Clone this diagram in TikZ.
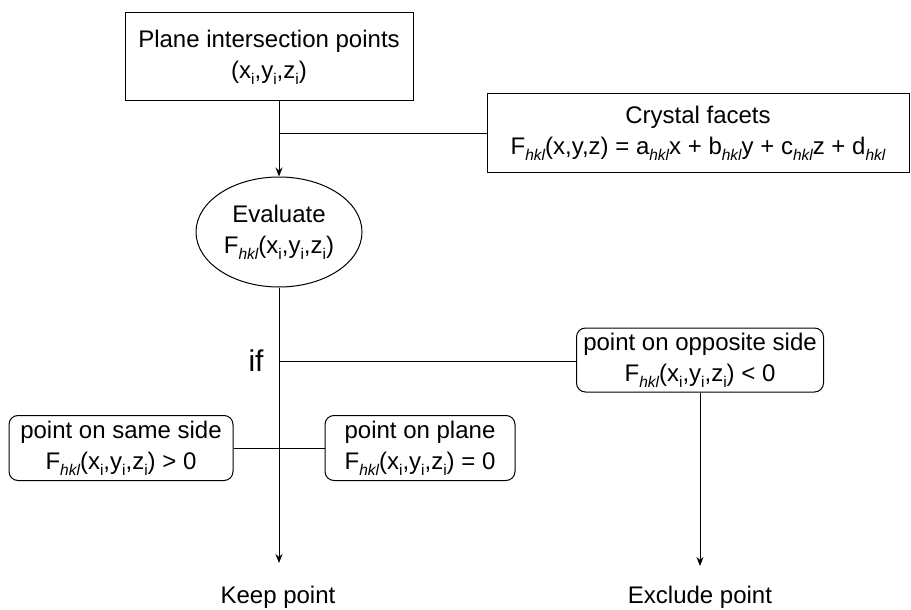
\documentclass[tikz,border=0pt]{standalone}
\usepackage{fontspec}
\setmainfont{Liberation Sans}
\usetikzlibrary{shapes.geometric,arrows.meta}
\newcommand{\mysb}[1]{\raisebox{-0.25em}{\fontsize{15.5}{15}\selectfont #1}}
\newcommand{\Fhkl}{F\mysb{\itshape hkl}}
\newcommand{\xyz}{(x\mysb{i},y\mysb{i},z\mysb{i})}
\begin{document}
\begin{tikzpicture}[x=1pt,y=-1pt,
  every node/.style={font=\fontsize{24}{31}\selectfont, align=center, inner sep=0pt},
  sqbox/.style={draw, line width=1pt, rectangle},
  rbox/.style={draw, line width=1pt, rectangle, rounded corners=9pt},
  ln/.style={line width=1pt},
  arr/.style={line width=1pt, -{Stealth[length=9pt,width=7pt]}}]
\useasboundingbox (0,0) rectangle (911,610);
\node[sqbox, minimum width=288pt, minimum height=88pt] (top) at (269,57) {Plane intersection points\\\xyz};
\node[sqbox, minimum width=422pt, minimum height=78pt] (cf) at (698,133) {Crystal facets\\\Fhkl(x,y,z) = a\mysb{\itshape hkl}x + b\mysb{\itshape hkl}y + c\mysb{\itshape hkl}z + d\mysb{\itshape hkl}};
\node[draw, line width=1pt, ellipse, minimum width=166pt, minimum height=110pt] (ev) at (279,232) {Evaluate\\\Fhkl\xyz};
\node[rbox, minimum width=247pt, minimum height=64pt] (opp) at (700,360) {point on opposite side\\\Fhkl\xyz{} < 0};
\node[rbox, minimum width=224pt, minimum height=65pt] (same) at (121,448) {point on same side\\\Fhkl\xyz{} > 0};
\node[rbox, minimum width=190pt, minimum height=65pt] (pl) at (420,448) {point on plane\\\Fhkl\xyz{} = 0};
\node[font=\fontsize{30}{30}\selectfont] (if) at (256,361) {if};
\node (keep) at (278,597) {Keep point};
\node (excl) at (700,597) {Exclude point};
\coordinate (j1) at (279,133);
\coordinate (j2) at (279,361);
\coordinate (j3) at (279,448);
\coordinate (kt) at (279,563);
\coordinate (et) at (700,566);
\draw[ln] (top.south -| j1) -- (j1);
\draw[arr] (j1) -- (ev.north);
\draw[ln] (j1) -- (cf.west |- j1);
\draw[arr] (ev.south) -- (kt);
\draw[ln] (j2) -- (opp.west |- j2);
\draw[ln] (same.east) -- (pl.west);
\draw[arr] (opp.south) -- (et);
\end{tikzpicture}
\end{document}
